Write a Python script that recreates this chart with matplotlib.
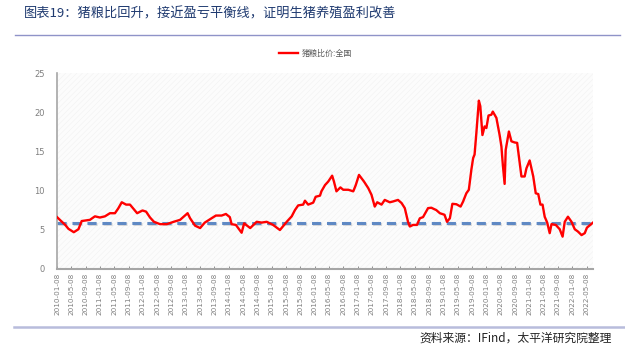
import matplotlib
matplotlib.use("Agg")
import matplotlib.pyplot as plt
from matplotlib.patches import Rectangle
from matplotlib.lines import Line2D
import matplotlib.patheffects as pe

plt.rcParams['font.family'] = ['Noto Sans CJK SC', 'DejaVu Sans']
plt.rcParams['hatch.linewidth'] = 0.35

title = "图表19：猪粮比回升，接近盈亏平衡线，证明生猪养殖盈利改善"
source = "资料来源：IFind，太平洋研究院整理"
series_name = "猪粮比价:全国"
breakeven = 5.88

# months elapsed since 2010-01-08
months = [0, 2.3, 3.2, 4.7, 6, 6.9, 9.2, 10.6, 12, 13.4, 14.8, 16.2, 17.1, 18.1, 19.3,
          20.4, 21.3, 22.4, 23.9, 24.9, 26, 27.1, 28.8, 30.7, 32.6, 34.4, 36.5, 37.2,
          38.6, 40, 41.3, 43.2, 44.4, 46, 47.2, 48.3, 48.8, 50, 51.6, 52.3, 54, 55.8,
          57.2, 58.6, 60.4, 62.3, 64.2, 65.6, 66.5, 67.4, 68.8, 69.3, 70.2, 71.6, 72.3,
          73.5, 73.9, 74.9, 75.8, 76.9, 77.4, 78.1, 79.2, 80, 81.4, 82.8, 83.5, 84.4,
          85.8, 87, 87.9, 88.8, 89.5, 90.7, 91.6, 93, 93.9, 95.3, 96.3, 97.2, 98.1,
          98.6, 99.5, 100.6, 101.4, 102.3, 103.7, 104.6, 106, 107, 108.3, 109, 109.8,
          110.5, 111.6, 112.8, 113.5, 114.4, 115.1, 115.8, 116.3, 116.7, 117.2, 117.9,
          118.3, 118.9, 119.5, 120, 120.6, 121.4, 121.8, 122.8, 123.7, 124.2, 124.6,
          125.1, 125.4, 126.3, 127, 127.9, 128.6, 129.8, 130.7, 131.2, 132.1, 133.1,
          133.8, 134.5, 135.1, 135.7, 136.3, 137, 137.7, 138.2, 139.4, 140.5, 141.3,
          141.9, 142.8, 143.8, 144.7, 145.6, 146.6, 147.5, 148.1, 149.8]
ratio = [6.6, 5.6, 5.1, 4.67, 5.05, 6.1, 6.25, 6.7, 6.55, 6.7, 7.1, 7.1, 7.7, 8.5, 8.2,
         8.2, 7.7, 7.1, 7.45, 7.3, 6.55, 6.0, 5.7, 5.7, 6.0, 6.25, 7.1, 6.45,
         5.5, 5.2, 5.9, 6.45, 6.8, 6.8, 7.0, 6.6, 5.7, 5.6, 4.6, 5.8, 5.2, 6.0,
         5.9, 6.0, 5.6, 4.95, 6.0, 6.7, 7.5, 8.1, 8.2, 8.7, 8.2, 8.45, 9.2,
         9.35, 9.9, 10.7, 11.15, 11.9, 11.15, 9.9, 10.4, 10.1, 10.1, 9.9, 10.7, 12.0,
         11.15, 10.3, 9.45, 7.95, 8.5, 8.2, 8.8, 8.5, 8.6, 8.8, 8.4, 7.75, 6.0,
         5.4, 5.6, 5.6, 6.45, 6.6, 7.75, 7.8, 7.5, 7.1, 6.9, 6.0, 6.45,
         8.3, 8.25, 7.95, 8.6, 9.65, 10.1, 12.65, 14.15, 14.6, 17.35, 21.5,
         20.8, 17.1, 18.2, 18.0, 19.6, 19.7, 20.1, 19.3, 17.1, 15.65, 13.3,
         10.85, 15.2, 17.55, 16.3, 16.15, 16.1, 11.8, 11.8, 12.85, 13.85, 11.8,
         9.65, 9.55, 8.2, 8.2, 6.65, 5.9, 4.55, 5.7, 5.6, 5.05, 4.1,
         6.0, 6.65, 6.0, 5.05, 4.75, 4.3, 4.55, 5.25, 5.9]

tick_labels = []
for y in range(2010, 2023):
    for m in (1, 5, 9):
        tick_labels.append(f"{y}-{m:02d}-08")
tick_labels = tick_labels[:38]
tick_pos = [4 * i for i in range(len(tick_labels))]

fig = plt.figure(figsize=(6.25, 3.55), dpi=100)
ax = fig.add_axes([57 / 625, 1 - 268.7 / 355, (593 - 57) / 625, (268.7 - 73.3) / 355])

ax.add_patch(Rectangle((0, 0), 1, 1, transform=ax.transAxes, facecolor='#fcfcfc',
                       edgecolor='#f0f0f0', hatch='//////', lw=0, zorder=0))

ax.axhline(breakeven, color='#5f89c4', lw=2.2, dashes=(3.0, 1.9), zorder=2,
           path_effects=[pe.SimpleLineShadow(offset=(0.6, -0.8), shadow_color='#8f8f8f', alpha=0.3),
                         pe.Normal()])
ax.plot(months, ratio, color='#ff0000', lw=1.7, zorder=3, solid_joinstyle='round')

ax.set_xlim(0, 149.8)
ax.set_ylim(0, 25)
ax.set_yticks([0, 5, 10, 15, 20, 25])
ax.set_xticks(tick_pos)
ax.set_xticklabels(tick_labels, rotation=90, fontsize=5.2, color='#7f7f7f',
                   family=['DejaVu Sans'])
ax.tick_params(axis='y', length=0, labelsize=6, labelcolor='#7f7f7f', pad=9)
ax.tick_params(axis='x', direction='in', length=2.5, width=0.6, color='#7f7f7f', pad=3)
for lbl in ax.get_yticklabels():
    lbl.set_family(['DejaVu Sans'])

for s in ('top', 'right'):
    ax.spines[s].set_visible(False)
ax.spines['bottom'].set_color('#a6a6a6')
ax.spines['bottom'].set_linewidth(1.5)
ax.spines['left'].set_color('#a6a6a6')
ax.spines['left'].set_linewidth(1.2)

# legend
handle = Line2D([], [], color='#ff0000', lw=1.7)
fig.legend([handle], [series_name], loc='center', bbox_to_anchor=(0.505, 1 - 53 / 355),
           frameon=False, fontsize=5.8, labelcolor='#595959', handlelength=2.4,
           handletextpad=0.4)

# title and decorations
fig.text(24 / 625, 1 - 14 / 355, title, fontsize=9.5, color='#1f3a70', va='center', ha='left')
fig.add_artist(Line2D([15 / 625, 620 / 625], [1 - 35 / 355, 1 - 35 / 355],
                      color='#8f93c8', lw=1.0, transform=fig.transFigure))
fig.add_artist(Line2D([14 / 625, 1.0], [1 - 327 / 355, 1 - 327 / 355],
                      color='#b8bcdc', lw=1.8, transform=fig.transFigure))
fig.text(612 / 625, 1 - 338 / 355, source, fontsize=8.5, color='#222222', va='center',
         ha='right', style='italic')

fig.savefig('out.png', dpi=100)
